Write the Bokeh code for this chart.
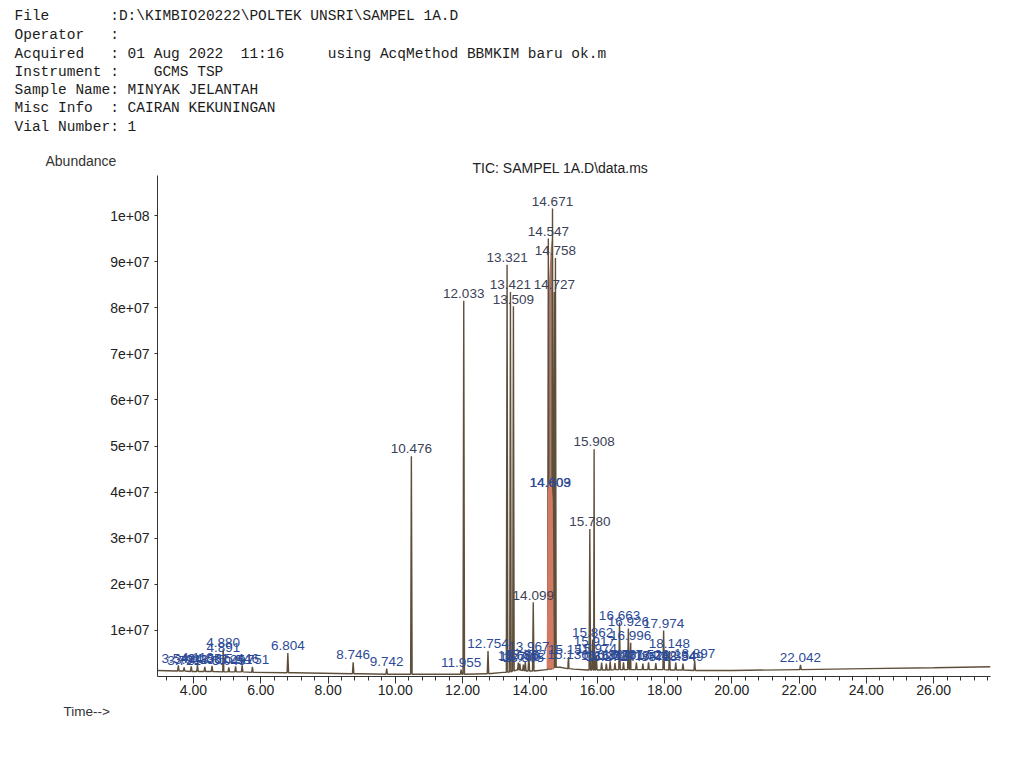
from bokeh.plotting import figure
from bokeh.layouts import column
from bokeh.models import FixedTicker
from bokeh.embed import file_html
from bokeh.resources import INLINE
from bokeh.core.properties import value
import numpy as np

# ---------------- data ----------------
peak_rt = [3.549, 3.721, 3.933, 4.118, 4.336, 4.551, 4.880, 4.891, 5.049, 5.251, 5.446, 5.751,
           6.804, 8.746, 9.742, 10.476, 11.955, 12.033, 12.754, 13.321, 13.421, 13.509,
           13.655, 13.700, 13.805, 13.862, 13.967, 14.099, 14.547, 14.603, 14.609, 14.671,
           14.727, 14.758, 15.136, 15.151, 15.780, 15.862, 15.908, 15.917, 15.974, 16.131,
           16.271, 16.384, 16.527, 16.663, 16.781, 16.926, 16.996, 17.164, 17.357, 17.526,
           17.742, 17.974, 18.148, 18.334, 18.549, 18.897, 22.042]
peak_top = [0.24e7, 0.20e7, 0.22e7, 0.25e7, 0.21e7, 0.23e7, 0.59e7, 0.48e7, 0.20e7, 0.22e7, 0.24e7, 0.21e7,
            0.51e7, 0.31e7, 0.17e7, 4.78e7, 0.15e7, 8.15e7, 0.55e7, 8.93e7, 8.34e7, 8.03e7,
            0.30e7, 0.28e7, 0.26e7, 0.32e7, 0.50e7, 1.61e7, 9.50e7, 4.06e7, 4.06e7, 10.15e7,
            8.34e7, 9.08e7, 0.32e7, 0.42e7, 3.20e7, 0.80e7, 4.93e7, 0.60e7, 0.45e7, 0.30e7,
            0.28e7, 0.33e7, 0.29e7, 1.17e7, 0.31e7, 1.04e7, 0.73e7, 0.30e7, 0.28e7, 0.31e7,
            0.29e7, 1.00e7, 0.55e7, 0.30e7, 0.28e7, 0.35e7, 0.25e7]
peak_base = [0.12e7, 0.12e7, 0.11e7, 0.11e7, 0.11e7, 0.11e7, 0.10e7, 0.10e7, 0.10e7, 0.10e7, 0.10e7, 0.09e7,
             0.08e7, 0.06e7, 0.05e7, 0.05e7, 0.05e7, 0.05e7, 0.06e7, 0.09e7, 0.10e7, 0.12e7,
             0.14e7, 0.14e7, 0.13e7, 0.12e7, 0.12e7, 0.12e7, 0.15e7, 0.16e7, 0.16e7, 0.18e7,
             0.19e7, 0.20e7, 0.17e7, 0.17e7, 0.14e7, 0.14e7, 0.14e7, 0.14e7, 0.14e7, 0.14e7,
             0.14e7, 0.14e7, 0.15e7, 0.15e7, 0.15e7, 0.15e7, 0.15e7, 0.15e7, 0.15e7, 0.15e7,
             0.15e7, 0.15e7, 0.14e7, 0.14e7, 0.14e7, 0.13e7, 0.15e7]
peak_label = ["3.549", "3.721", "3.933", "4.118", "4.336", "4.551", "4.880", "4.891", "5.049", "5.251", "5.446", "5.751",
              "6.804", "8.746", "9.742", "10.476", "11.955", "12.033", "12.754", "13.321", "13.421", "13.509",
              "13.655", "13.700", "13.805", "13.862", "13.967", "14.099", "14.547", "14.603", "14.609", "14.671",
              "14.727", "14.758", "15.136", "15.151", "15.780", "15.862", "15.908", "15.917", "15.974", "16.131",
              "16.271", "16.384", "16.527", "16.663", "16.781", "16.926", "16.996", "17.164", "17.357", "17.526",
              "17.742", "17.974", "18.148", "18.334", "18.549", "18.897", "22.042"]

base_rt = [2.93, 3.5, 5.0, 7.0, 9.0, 10.4, 11.9, 12.7, 13.2, 13.6, 14.0, 14.5, 14.9, 15.3,
           15.7, 16.2, 17.0, 18.0, 19.0, 20.0, 22.0, 24.0, 26.0, 27.69]
base_val = [0.13e7, 0.12e7, 0.10e7, 0.08e7, 0.06e7, 0.05e7, 0.05e7, 0.06e7, 0.09e7, 0.14e7,
            0.12e7, 0.15e7, 0.20e7, 0.16e7, 0.14e7, 0.14e7, 0.15e7, 0.15e7, 0.13e7, 0.13e7,
            0.15e7, 0.17e7, 0.19e7, 0.21e7]

# integrated (shaded) area under the main 14.5-14.8 min cluster
fill_rt = [14.50, 14.53, 14.58, 14.64, 14.68, 14.71]
fill_top = [0.3e7, 4.0e7, 4.3e7, 4.3e7, 3.8e7, 0.4e7]
fill2_rt = [14.53, 14.57, 14.62, 14.67, 14.71]
fill2_top = [4.0e7, 8.6e7, 9.3e7, 9.6e7, 4.0e7]

x_ticks = [4, 6, 8, 10, 12, 14, 16, 18, 20, 22, 24, 26]
x_tick_labels = ["4.00", "6.00", "8.00", "10.00", "12.00", "14.00", "16.00", "18.00",
                 "20.00", "22.00", "24.00", "26.00"]
y_ticks = [1e7, 2e7, 3e7, 4e7, 5e7, 6e7, 7e7, 8e7, 9e7, 1e8]
y_tick_labels = ["1e+07", "2e+07", "3e+07", "4e+07", "5e+07", "6e+07", "7e+07", "8e+07",
                 "9e+07", "1e+08"]

# header lines: (line, column, text) of a fixed-width report
header_line = [0, 0, 1, 1, 2, 2, 2, 2, 3, 3, 4, 5, 5, 6]
header_col = [0, 11, 0, 11, 0, 11, 26, 36, 0, 16, 0, 0, 11, 0]
header_text = ["File", ":D:\\KIMBIO20222\\POLTEK UNSRI\\SAMPEL 1A.D",
               "Operator", ":",
               "Acquired", ": 01 Aug 2022", "11:16", "using AcqMethod BBMKIM baru ok.m",
               "Instrument :", "GCMS TSP",
               "Sample Name: MINYAK JELANTAH",
               "Misc Info", ": CAIRAN KEKUNINGAN",
               "Vial Number: 1"]
chart_title = "TIC: SAMPEL 1A.D\\data.ms"

# ---------------- layout ----------------
W, H = 1028, 782
HEAD_H = 175            # header strip height (frame top of main chart)
FL, FR = 157, 990       # frame left / right in page px
FB = 676                # frame bottom in page px
MAIN_BOTTOM = 26
MAIN_H = FB - HEAD_H + MAIN_BOTTOM
FOOT_H = H - HEAD_H - MAIN_H
X_START, X_END = 2.93, 27.69
Y_START, Y_END = 0.0, 1.0868e8

mono = "Liberation Mono"
sans = "Liberation Sans"
MONO_PX = 14.5
CHAR_W = 0.6 * MONO_PX
LINE_Y = [15, 34, 53, 71, 89, 107, 126]

# header strip: coordinates in page pixels
hd = figure(width=W, height=HEAD_H, x_range=(0, W), y_range=(HEAD_H, 0),
            output_backend="svg", toolbar_location=None, frame_align=False,
            x_axis_location=None, y_axis_location=None, min_border=0)
hd.outline_line_color = None
hd.grid.visible = False
hd.text(x=[14 + c * CHAR_W for c in header_col], y=[LINE_Y[l] for l in header_line],
        text=header_text, text_font=value(mono), text_font_size=f"{MONO_PX}px",
        text_baseline="middle", text_color="#1c1c1c")
hd.text(x=[45], y=[160], text=["Abundance"], text_font=value(sans),
        text_font_size="14px", text_baseline="middle", text_color="#333333")
hd.text(x=[472], y=[167], text=[chart_title], text_font=value(sans),
        text_font_size="14px", text_baseline="middle", text_color="#222222")

# main chromatogram
p = figure(width=W, height=MAIN_H, x_range=(X_START, X_END), y_range=(Y_START, Y_END),
           output_backend="svg", toolbar_location=None, frame_align=False,
           min_border_left=FL, min_border_right=W - FR, min_border_top=0,
           min_border_bottom=MAIN_BOTTOM)
p.outline_line_color = None
p.grid.visible = False

pts = list(zip(base_rt, base_val))
hw = 0.022
for rt, top, b in zip(peak_rt, peak_top, peak_base):
    pts += [(rt - hw, b), (rt, top), (rt + hw, b)]
pts.sort(key=lambda t: t[0])
tx = [t[0] for t in pts]
ty = [t[1] for t in pts]

p.varea(x=fill2_rt, y1=[0.15e7] * len(fill2_rt), y2=fill2_top, fill_color="#9a5a48", fill_alpha=0.8)
p.line(tx, ty, line_color="#5e4f3b", line_width=1.4)
p.varea(x=fill_rt, y1=[0.17e7] * len(fill_rt), y2=fill_top, fill_color="#e5806a", fill_alpha=0.85)

big = [i for i, t in enumerate(peak_top) if t >= 1.5e7 and peak_label[i] not in ("14.603", "14.609")]
small = [i for i in range(len(peak_rt)) if i not in big]
lab_off = 0.06e7
p.text(x=[peak_rt[i] for i in big], y=[peak_top[i] + lab_off for i in big],
       text=[peak_label[i] for i in big], text_align="center", text_baseline="bottom",
       text_font=value(sans), text_font_size="13.5px", text_color="#3b4257")
p.text(x=[peak_rt[i] for i in small], y=[peak_top[i] + lab_off for i in small],
       text=[peak_label[i] for i in small], text_align="center", text_baseline="bottom",
       text_font=value(sans), text_font_size="13.5px", text_color="#2c4a96")

xa = p.xaxis[0]
xa.ticker = FixedTicker(ticks=x_ticks, minor_ticks=list(np.arange(3.2, 27.61, 0.4)))
xa.major_label_overrides = {t: s for t, s in zip(x_ticks, x_tick_labels)}
xa.major_tick_out = 7
xa.major_tick_in = 0
xa.minor_tick_out = 4
xa.minor_tick_in = 0
xa.major_label_standoff = 1
xa.major_label_text_font = sans
xa.major_label_text_font_size = "14px"
xa.major_label_text_color = "#222222"
xa.axis_line_color = "#333333"
xa.major_tick_line_color = "#333333"
xa.minor_tick_line_color = "#333333"

ya = p.yaxis[0]
ya.ticker = FixedTicker(ticks=y_ticks)
ya.major_label_overrides = {t: s for t, s in zip(y_ticks, y_tick_labels)}
ya.major_tick_out = 3
ya.major_tick_in = 0
ya.minor_tick_out = 0
ya.minor_tick_in = 0
ya.major_label_standoff = 5
ya.major_label_text_font = sans
ya.major_label_text_font_size = "14px"
ya.major_label_text_color = "#222222"
ya.axis_line_color = "#333333"
ya.major_tick_line_color = "#333333"

# footer strip
ft = figure(width=W, height=FOOT_H, x_range=(0, W), y_range=(FOOT_H, 0),
            output_backend="svg", toolbar_location=None, frame_align=False,
            x_axis_location=None, y_axis_location=None, min_border=0)
ft.outline_line_color = None
ft.grid.visible = False
ft.text(x=[63], y=[711 - (HEAD_H + MAIN_H)], text=["Time-->"], text_font=value(sans),
        text_font_size="13.5px", text_baseline="middle", text_color="#333333")

layout = column(hd, p, ft, spacing=0)
open("out.html", "w").write(file_html(layout, INLINE))
